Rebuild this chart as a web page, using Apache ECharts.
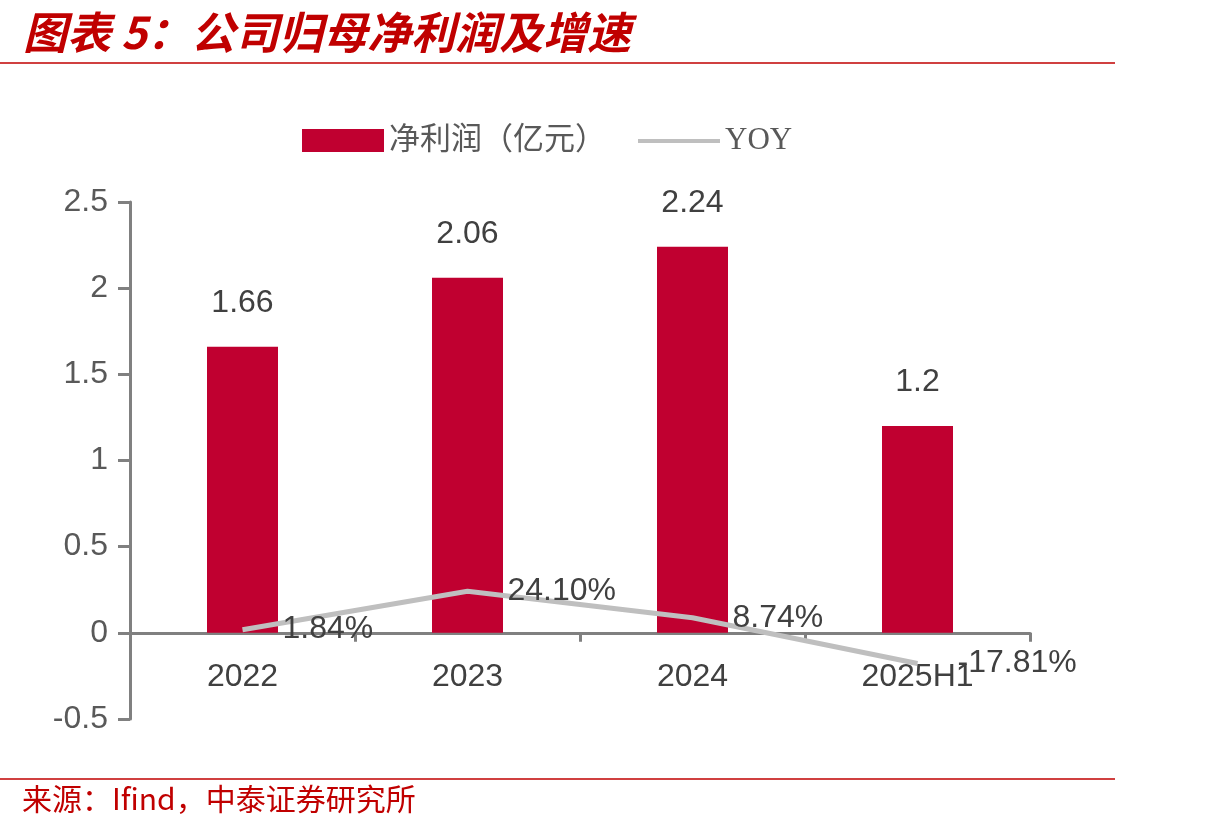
<!DOCTYPE html>
<html>
<head>
<meta charset="utf-8">
<script src="https://cdn.jsdelivr.net/npm/echarts@6/dist/echarts.min.js"></script>
<style>
  html, body { margin: 0; padding: 0; background: #fff; }
  #chart { width: 1218px; height: 832px; }
</style>
</head>
<body>
<div id="chart"></div>
<script>
// 数据
var categories = ['2022', '2023', '2024', '2025H1'];
var profit = [1.66, 2.06, 2.24, 1.2];
var yoy = [0.0184, 0.241, 0.0874, -0.1781];
var yTicks = { min: -0.5, max: 2.5, step: 0.5 };

var red = '#C00000';
var cnFont = '"Noto Sans CJK SC", sans-serif';
var numFont = '"Liberation Sans", Arial, sans-serif';

var gridTop = 202, gridBottom = 113;
var plotH = 832 - gridTop - gridBottom;
// 把 x 轴移到 0 刻度处
var zeroOffset = -plotH * (0 - yTicks.min) / (yTicks.max - yTicks.min);

// 图例里的细线（上下两个空点撑开包围盒）
var lineIcon = 'path://M0,0L0.01,0ZM0,10L82,10L82,14L0,14ZM0,23L0.01,23Z';

var chart = echarts.init(document.getElementById('chart'));

var option = {
  backgroundColor: '#fff',
  animation: false,
  title: {
    text: '图表 5：公司归母净利润及增速',
    left: 18,
    top: 5,
    textStyle: {
      color: red,
      fontSize: 44,
      fontWeight: 'bold',
      fontStyle: 'italic',
      fontFamily: cnFont
    }
  },
  legend: {
    top: 120,
    left: 297,
    itemWidth: 82,
    itemHeight: 23,
    itemGap: 32,
    textStyle: {
      color: '#595959',
      fontSize: 31,
      fontFamily: '"Liberation Serif", "Noto Sans CJK SC", serif'
    },
    data: [{ name: '净利润（亿元）', icon: 'rect' }, { name: 'YOY', icon: lineIcon }]
  },
  grid: {
    left: 130,
    right: 188,
    top: gridTop,
    bottom: gridBottom,
    containLabel: false
  },
  xAxis: {
    type: 'category',
    data: categories,
    offset: zeroOffset,
    axisLine: { onZero: false, lineStyle: { color: '#808080', width: 3 } },
    axisTick: { show: true, length: 9, inside: false, lineStyle: { color: '#808080', width: 3 } },
    axisLabel: {
      color: '#404040',
      fontSize: 32,
      margin: 28,
      fontFamily: numFont
    }
  },
  yAxis: {
    type: 'value',
    min: yTicks.min,
    max: yTicks.max,
    interval: yTicks.step,
    splitLine: { show: false },
    axisLine: { show: true, lineStyle: { color: '#808080', width: 3 } },
    axisTick: { show: true, length: 12, lineStyle: { color: '#808080', width: 3 } },
    axisLabel: {
      color: '#595959',
      fontSize: 32,
      margin: 22,
      fontFamily: numFont
    }
  },
  series: [
    {
      name: '净利润（亿元）',
      type: 'bar',
      data: profit,
      barWidth: 71,
      itemStyle: { color: '#C00030' },
      label: {
        show: true,
        position: 'top',
        distance: 28,
        color: '#404040',
        fontSize: 32,
        fontFamily: numFont
      }
    },
    {
      name: 'YOY',
      type: 'line',
      data: yoy,
      symbol: 'none',
      z: 5,
      lineStyle: { color: '#BFBFBF', width: 5 },
      itemStyle: { color: '#BFBFBF' }
    },
    {
      // 同比标签
      name: 'YOY标签',
      type: 'scatter',
      data: yoy,
      symbolSize: 0,
      z: 6,
      silent: true,
      itemStyle: { opacity: 1, color: '#BFBFBF' },
      label: {
        show: true,
        position: 'right',
        distance: 40,
        color: '#404040',
        fontSize: 32,
        fontFamily: numFont,
        formatter: function (p) { return (p.value * 100).toFixed(2) + '%'; }
      }
    }
  ],
  graphic: [
    {
      type: 'line',
      shape: { x1: 0, y1: 63, x2: 1115, y2: 63 },
      style: { stroke: red, lineWidth: 1.5 }
    },
    {
      type: 'line',
      shape: { x1: 0, y1: 779, x2: 1115, y2: 779 },
      style: { stroke: red, lineWidth: 1.5 }
    },
    {
      type: 'text',
      left: 22,
      top: 784,
      style: {
        text: '来源：Ifind，中泰证券研究所',
        fill: red,
        fontSize: 30,
        fontFamily: cnFont
      }
    }
  ]
};

chart.setOption(option);
</script>
</body>
</html>
